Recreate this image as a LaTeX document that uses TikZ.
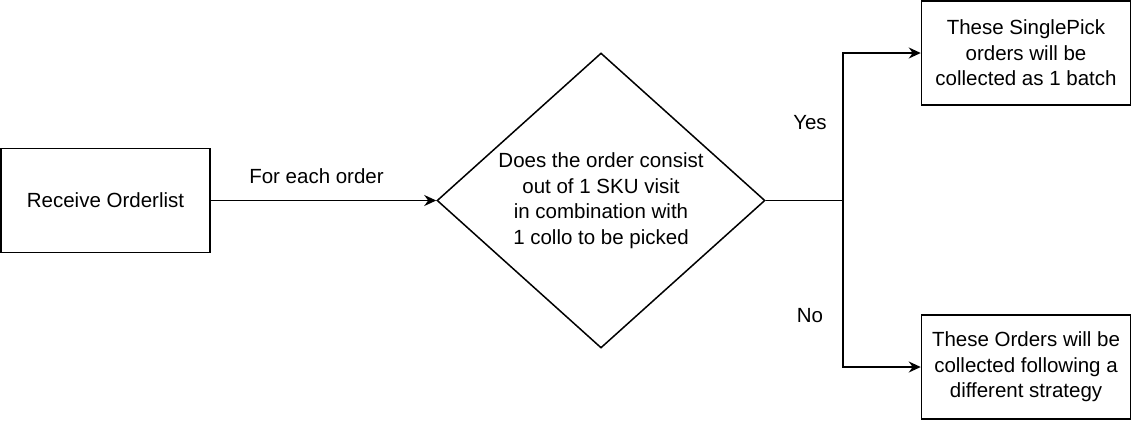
\documentclass[tikz,border=0pt]{standalone}
\usepackage{fontspec}
\setmainfont{Liberation Sans}
\usetikzlibrary{arrows.meta,positioning,shapes.geometric}

\begin{document}
\begin{tikzpicture}[x=1pt,y=-1pt,>={Stealth[length=12pt,width=11pt]},line width=1.5pt,
    font=\fontsize{20.5}{25.5}\selectfont,
    blk/.style={draw,align=center,inner sep=2pt,minimum width=209pt,minimum height=104pt},
    dec/.style={draw,diamond,aspect=1.11,inner sep=0pt,align=center,minimum width=328pt,minimum height=295pt},
    lbl/.style={inner sep=0pt}]
  \useasboundingbox (0,0) rectangle (1131,421);
  \node[blk] (recv) at (105.5,200.5) {Receive Orderlist};
  \node[dec] (check) at (601,200.5) {Does the order consist\\out of 1 SKU visit\\in combination with\\1 collo to be picked};
  \node[blk] (single) at (1026,53) {These SinglePick\\orders will be\\collected as 1 batch};
  \node[blk] (other) at (1026,367) {These Orders will be\\collected following a\\different strategy};
  \coordinate (split) at (843,200.5);
  % order flow and yes/no branches
  \draw[->] (recv) -- node[lbl,above=16pt,xshift=-7pt] {For each order} (check);
  \draw (check) -- (split);
  \draw[->] (split) |- node[lbl,pos=.263,xshift=-33pt] {Yes} (single);
  \draw[->] (split) |- node[lbl,pos=.344,xshift=-33pt] {No} (other);
\end{tikzpicture}
\end{document}
